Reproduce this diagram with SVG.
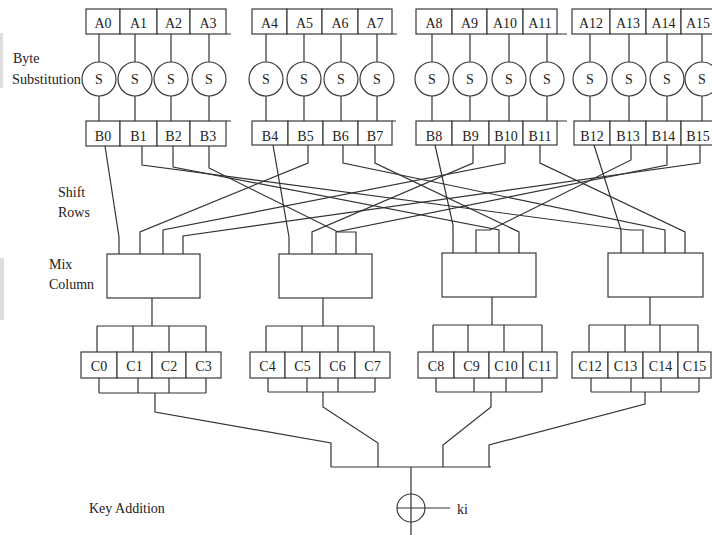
<svg xmlns="http://www.w3.org/2000/svg" width="712" height="535" viewBox="0 0 712 535">
<style>
.bx{fill:#fff;stroke:#3a3a3a;stroke-width:1.2}
.ln{fill:none;stroke:#333;stroke-width:1.2}
.t{font-family:"Liberation Serif","Times New Roman",serif;font-size:14px;fill:#222;text-anchor:middle}
.lb{font-family:"Liberation Serif","Times New Roman",serif;font-size:14px;fill:#222}
</style>
<rect width="712" height="535" fill="#fff"/>
<rect x="0" y="33" width="3" height="55" fill="#ddd"/>
<rect x="0" y="258" width="4" height="62" fill="#ddd"/>

<g id="labels">
<text class="lb" x="13" y="63">Byte</text>
<text class="lb" x="12" y="84" textLength="69" lengthAdjust="spacingAndGlyphs">Substitution</text>
<text class="lb" x="58" y="197">Shift</text>
<text class="lb" x="58" y="217">Rows</text>
<text class="lb" x="49" y="269">Mix</text>
<text class="lb" x="49" y="289">Column</text>
<text class="lb" x="89" y="513">Key Addition</text>
</g>

<g id="connectors">
<!-- A to S to B -->
<path class="ln" d="M99,34V62M99,96V121M135,34V62M135,96V121M171,34V62M171,96V121M209,34V62M209,96V121"/>
<path class="ln" d="M266,34V62M266,96V121M304,34V62M304,96V121M341,34V62M341,96V121M377,34V62M377,96V121"/>
<path class="ln" d="M432,34V62M432,96V121M470,34V62M470,96V121M509,34V62M509,96V121M547,34V62M547,96V121"/>
<path class="ln" d="M590,34V62M590,96V121M629,34V62M629,96V121M667,34V62M667,96V121M702,34V62M702,96V121"/>
<!-- small extensions -->
<path class="ln" d="M226,34H231M392,34H397M557,34H567M226,121H231M392,121H396M557,121H567"/>
<!-- shift rows: column 0 -->
<polyline class="ln" points="105,146 119,237 119,254"/>
<polyline class="ln" points="308,145 308,163 140,232 140,254"/>
<polyline class="ln" points="505,145 505,163 163,230 163,254"/>
<polyline class="ln" points="700,145 700,163 183,236 183,254"/>
<!-- column 1 -->
<polyline class="ln" points="273,145 289,237 289,254"/>
<polyline class="ln" points="473,145 473,163 312,232 312,254"/>
<polyline class="ln" points="667,145 667,165 336,232 336,254"/>
<polyline class="ln" points="209,146 209,168 338,232 356,232 356,254"/>
<!-- column 2 -->
<polyline class="ln" points="435,145 453,225 453,253"/>
<polyline class="ln" points="631,145 631,160 490,230 476,230 476,253"/>
<polyline class="ln" points="173,146 173,167 499,230 499,253"/>
<polyline class="ln" points="375,145 375,163 519,232 519,253"/>
<!-- column 3 -->
<polyline class="ln" points="594,145 621,230 621,253"/>
<polyline class="ln" points="142,146 142,165 630,230 643,230 643,253"/>
<polyline class="ln" points="343,145 343,163 665,230 665,253"/>
<polyline class="ln" points="540,145 540,163 685,232 685,253"/>
<!-- mix column outputs to C -->
<path class="ln" d="M152,298V326M97,326H206M97,326V352M133,326V352M169,326V352M206,326V352"/>
<path class="ln" d="M323,298V326M266,326H374M266,326V352M302,326V352M338,326V352M374,326V352"/>
<path class="ln" d="M492,297V325M433,325H542M433,325V352M468,325V352M504,325V352M542,325V352"/>
<path class="ln" d="M650,297V325M589,325H698M589,325V352M625,325V352M660,325V352M698,325V352"/>
<!-- C to bottom buses -->
<path class="ln" d="M99,378V393M138,378V393M169,378V393M206,378V393M99,393H206"/>
<path class="ln" d="M268,378V392M307,378V392M338,378V392M375,378V392M268,392H375"/>
<path class="ln" d="M436,378V392M474,378V392M506,378V392M542,378V392M436,392H542"/>
<path class="ln" d="M591,378V392M631,378V392M661,378V392M699,378V392M591,392H699"/>
<!-- key addition -->
<polyline class="ln" points="155,393 155,412 331,443 331,467"/>
<polyline class="ln" points="323,392 323,407 378,443 378,467"/>
<polyline class="ln" points="491,392 491,407 443,445 443,467"/>
<polyline class="ln" points="645,392 645,404 489,445 489,467"/>
<path class="ln" d="M331,467H491M411,467V535M425,508H450"/>
</g>

<g id="A0"><rect class="bx" x="86" y="9" width="34" height="25"/><text class="t" x="103" y="28">A0</text></g>
<g id="A1"><rect class="bx" x="120" y="9" width="37" height="25"/><text class="t" x="138.5" y="28">A1</text></g>
<g id="A2"><rect class="bx" x="157" y="9" width="33" height="25"/><text class="t" x="173.5" y="28">A2</text></g>
<g id="A3"><rect class="bx" x="190" y="9" width="36" height="25"/><text class="t" x="208" y="28">A3</text></g>
<g id="A4"><rect class="bx" x="252" y="9" width="35" height="25"/><text class="t" x="269.5" y="28">A4</text></g>
<g id="A5"><rect class="bx" x="287" y="9" width="35" height="25"/><text class="t" x="304.5" y="28">A5</text></g>
<g id="A6"><rect class="bx" x="322" y="9" width="36" height="25"/><text class="t" x="340" y="28">A6</text></g>
<g id="A7"><rect class="bx" x="358" y="9" width="34" height="25"/><text class="t" x="375" y="28">A7</text></g>
<g id="A8"><rect class="bx" x="416" y="9" width="36" height="25"/><text class="t" x="434" y="28">A8</text></g>
<g id="A9"><rect class="bx" x="452" y="9" width="35" height="25"/><text class="t" x="469.5" y="28">A9</text></g>
<g id="A10"><rect class="bx" x="487" y="9" width="36" height="25"/><text class="t" x="505" y="28">A10</text></g>
<g id="A11"><rect class="bx" x="523" y="9" width="34" height="25"/><text class="t" x="540" y="28">A11</text></g>
<g id="A12"><rect class="bx" x="572" y="9" width="38" height="25"/><text class="t" x="591" y="28">A12</text></g>
<g id="A13"><rect class="bx" x="610" y="9" width="36" height="25"/><text class="t" x="628" y="28">A13</text></g>
<g id="A14"><rect class="bx" x="646" y="9" width="35" height="25"/><text class="t" x="663.5" y="28">A14</text></g>
<g id="A15"><rect class="bx" x="681" y="9" width="35" height="25"/><text class="t" x="698" y="28">A15</text></g>

<g id="S0"><circle class="bx" cx="99" cy="79" r="17"/><text class="t" x="99" y="84">S</text></g>
<g id="S1"><circle class="bx" cx="135" cy="79" r="17"/><text class="t" x="135" y="84">S</text></g>
<g id="S2"><circle class="bx" cx="171" cy="79" r="17"/><text class="t" x="171" y="84">S</text></g>
<g id="S3"><circle class="bx" cx="209" cy="79" r="17"/><text class="t" x="209" y="84">S</text></g>
<g id="S4"><circle class="bx" cx="266" cy="79" r="17"/><text class="t" x="266" y="84">S</text></g>
<g id="S5"><circle class="bx" cx="304" cy="79" r="17"/><text class="t" x="304" y="84">S</text></g>
<g id="S6"><circle class="bx" cx="341" cy="79" r="17"/><text class="t" x="341" y="84">S</text></g>
<g id="S7"><circle class="bx" cx="377" cy="79" r="17"/><text class="t" x="377" y="84">S</text></g>
<g id="S8"><circle class="bx" cx="432" cy="79" r="17"/><text class="t" x="432" y="84">S</text></g>
<g id="S9"><circle class="bx" cx="470" cy="79" r="17"/><text class="t" x="470" y="84">S</text></g>
<g id="S10"><circle class="bx" cx="509" cy="79" r="17"/><text class="t" x="509" y="84">S</text></g>
<g id="S11"><circle class="bx" cx="547" cy="79" r="17"/><text class="t" x="547" y="84">S</text></g>
<g id="S12"><circle class="bx" cx="590" cy="79" r="17"/><text class="t" x="590" y="84">S</text></g>
<g id="S13"><circle class="bx" cx="629" cy="79" r="17"/><text class="t" x="629" y="84">S</text></g>
<g id="S14"><circle class="bx" cx="667" cy="79" r="17"/><text class="t" x="667" y="84">S</text></g>
<g id="S15"><circle class="bx" cx="702" cy="79" r="17"/><text class="t" x="702" y="84">S</text></g>

<g id="B0"><rect class="bx" x="86" y="121" width="34" height="25"/><text class="t" x="103" y="141">B0</text></g>
<g id="B1"><rect class="bx" x="120" y="121" width="37" height="25"/><text class="t" x="138.5" y="141">B1</text></g>
<g id="B2"><rect class="bx" x="157" y="121" width="33" height="25"/><text class="t" x="173.5" y="141">B2</text></g>
<g id="B3"><rect class="bx" x="190" y="121" width="36" height="25"/><text class="t" x="208" y="141">B3</text></g>
<g id="B4"><rect class="bx" x="252" y="121" width="36" height="24"/><text class="t" x="270" y="141">B4</text></g>
<g id="B5"><rect class="bx" x="288" y="121" width="35" height="24"/><text class="t" x="305.5" y="141">B5</text></g>
<g id="B6"><rect class="bx" x="323" y="121" width="35" height="24"/><text class="t" x="340.5" y="141">B6</text></g>
<g id="B7"><rect class="bx" x="358" y="121" width="34" height="24"/><text class="t" x="375" y="141">B7</text></g>
<g id="B8"><rect class="bx" x="416" y="121" width="36" height="24"/><text class="t" x="434" y="141">B8</text></g>
<g id="B9"><rect class="bx" x="452" y="121" width="37" height="24"/><text class="t" x="470.5" y="141">B9</text></g>
<g id="B10"><rect class="bx" x="489" y="121" width="34" height="24"/><text class="t" x="506" y="141">B10</text></g>
<g id="B11"><rect class="bx" x="523" y="121" width="34" height="24"/><text class="t" x="540" y="141">B11</text></g>
<g id="B12"><rect class="bx" x="574" y="121" width="36" height="24"/><text class="t" x="592" y="141">B12</text></g>
<g id="B13"><rect class="bx" x="610" y="121" width="36" height="24"/><text class="t" x="628" y="141">B13</text></g>
<g id="B14"><rect class="bx" x="646" y="121" width="35" height="24"/><text class="t" x="663.5" y="141">B14</text></g>
<g id="B15"><rect class="bx" x="681" y="121" width="34" height="24"/><text class="t" x="698" y="141">B15</text></g>

<g id="MC0"><rect class="bx" x="107" y="254" width="93" height="44"/></g>
<g id="MC1"><rect class="bx" x="279" y="254" width="93" height="44"/></g>
<g id="MC2"><rect class="bx" x="442" y="253" width="94" height="44"/></g>
<g id="MC3"><rect class="bx" x="608" y="253" width="95" height="44"/></g>

<g id="C0"><rect class="bx" x="81" y="352" width="36" height="26"/><text class="t" x="99" y="371">C0</text></g>
<g id="C1"><rect class="bx" x="117" y="352" width="35" height="26"/><text class="t" x="134.5" y="371">C1</text></g>
<g id="C2"><rect class="bx" x="152" y="352" width="34" height="26"/><text class="t" x="169" y="371">C2</text></g>
<g id="C3"><rect class="bx" x="186" y="352" width="35" height="26"/><text class="t" x="203.5" y="371">C3</text></g>
<g id="C4"><rect class="bx" x="250" y="352" width="35" height="26"/><text class="t" x="267.5" y="371">C4</text></g>
<g id="C5"><rect class="bx" x="285" y="352" width="35" height="26"/><text class="t" x="302.5" y="371">C5</text></g>
<g id="C6"><rect class="bx" x="320" y="352" width="35" height="26"/><text class="t" x="337.5" y="371">C6</text></g>
<g id="C7"><rect class="bx" x="355" y="352" width="35" height="26"/><text class="t" x="372.5" y="371">C7</text></g>
<g id="C8"><rect class="bx" x="418" y="352" width="36" height="26"/><text class="t" x="436" y="371">C8</text></g>
<g id="C9"><rect class="bx" x="454" y="352" width="35" height="26"/><text class="t" x="471.5" y="371">C9</text></g>
<g id="C10"><rect class="bx" x="489" y="352" width="34" height="26"/><text class="t" x="506" y="371">C10</text></g>
<g id="C11"><rect class="bx" x="523" y="352" width="34" height="26"/><text class="t" x="540" y="371">C11</text></g>
<g id="C12"><rect class="bx" x="572" y="352" width="36" height="26"/><text class="t" x="590" y="371">C12</text></g>
<g id="C13"><rect class="bx" x="608" y="352" width="35" height="26"/><text class="t" x="625.5" y="371">C13</text></g>
<g id="C14"><rect class="bx" x="643" y="352" width="35" height="26"/><text class="t" x="660.5" y="371">C14</text></g>
<g id="C15"><rect class="bx" x="678" y="352" width="33" height="26"/><text class="t" x="694.5" y="371">C15</text></g>

<g id="xor"><circle class="bx" cx="411" cy="508" r="14"/><path class="ln" d="M397,508H425M411,494V522"/></g>
<g id="ki"><text class="lb" x="457" y="514">ki</text></g>
</svg>
